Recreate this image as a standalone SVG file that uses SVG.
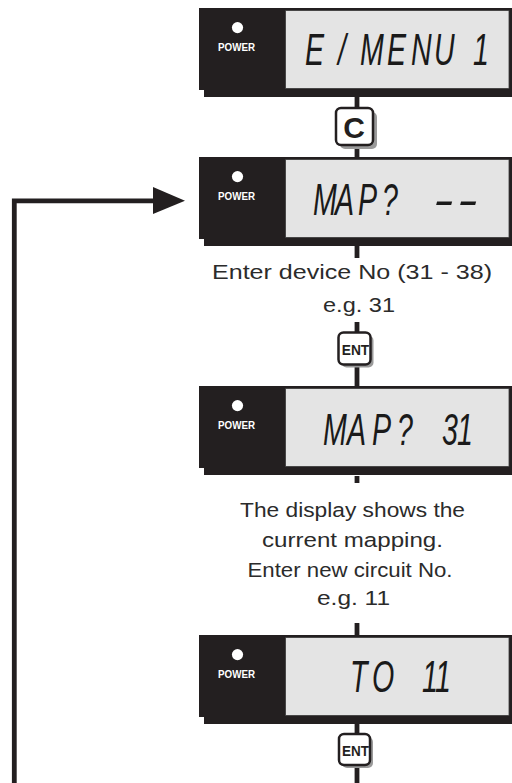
<svg xmlns="http://www.w3.org/2000/svg" width="512" height="783" viewBox="0 0 512 783">
<style>
.frame{fill:#231f20}
.lcd{fill:#e4e4e4;stroke:#3a3a3a;stroke-width:0.8}
.led{fill:#ffffff}
.pw{font-family:"Liberation Sans",Arial,sans-serif;font-weight:bold;font-size:10.5px;fill:#ffffff;text-anchor:middle}
.seg{font-family:"Liberation Sans",Arial,sans-serif;font-style:italic;font-size:44px;fill:#1a1a1a}
.desc{font-family:"Liberation Sans",Arial,sans-serif;font-size:20.5px;fill:#2b2b2b;text-anchor:middle}
.btn{fill:#ffffff;stroke:#231f20;stroke-width:2.5}
.bsh{fill:#9a9a9a}
.blbl{font-family:"Liberation Sans",Arial,sans-serif;font-weight:bold;fill:#231f20;text-anchor:middle}
.conn{stroke:#231f20;stroke-width:4.8;fill:none}
</style>
<defs>
<g id="panel">
<path class="frame" d="M199,0 H512 V89 H204 V82 H199 Z"/>
<rect class="lcd" x="285.5" y="2.5" width="223.5" height="78"/>
<circle class="led" cx="237.5" cy="19.6" r="5.6"/>
<text class="pw" x="236.5" y="42.8" textLength="37" lengthAdjust="spacingAndGlyphs">POWER</text>
</g>
</defs>

<g id="connectors">
<line class="conn" x1="357" y1="96" x2="357" y2="158"/>
<line class="conn" x1="357" y1="245" x2="357" y2="258"/>
<line class="conn" x1="357" y1="322" x2="357" y2="387"/>
<line class="conn" x1="357" y1="476" x2="357" y2="483"/>
<line class="conn" x1="357" y1="623" x2="357" y2="636"/>
<line class="conn" x1="357" y1="723" x2="357" y2="783"/>
<polyline class="conn" points="14.3,783 14.3,200.8 158,200.8" style="stroke-linejoin:miter"/>
<polygon fill="#231f20" points="153,187 185,200.8 153,214"/>
</g>

<g id="panel1">
<use href="#panel" y="8"/>
<text class="seg" transform="scale(0.65,1)" y="65" x="469.2 520 553.8 595.4 632.3 667.7 727.7">E/MENU1</text>
</g>

<g id="btn-c">
<rect class="bsh" x="340" y="112" width="37" height="37" rx="5"/>
<rect class="btn" x="336" y="108" width="37" height="37" rx="5"/>
<text class="blbl" x="354" y="137.5" font-size="30">C</text>
</g>

<g id="panel2">
<use href="#panel" y="157"/>
<text class="seg" transform="scale(0.65,1)" y="215" x="481.5 515.4 550.8 587.7">MAP?</text>
<text class="seg" transform="scale(1.4,1)" y="215" x="309.3 326.4">--</text>
</g>

<g id="text1">
<text class="desc" x="352" y="279" textLength="280" lengthAdjust="spacingAndGlyphs">Enter device No (31 - 38)</text>
<text class="desc" x="359" y="312" textLength="72" lengthAdjust="spacingAndGlyphs">e.g. 31</text>
</g>

<g id="btn-ent1">
<rect class="bsh" x="341.5" y="335.5" width="32" height="32" rx="5"/>
<rect class="btn" x="338.5" y="332.5" width="32" height="32" rx="5"/>
<text class="blbl" x="355.5" y="354.5" font-size="15" textLength="27.5" lengthAdjust="spacingAndGlyphs">ENT</text>
</g>

<g id="panel3">
<use href="#panel" y="386"/>
<text class="seg" transform="scale(0.65,1)" y="445" x="496.9 533.8 572.3 610.8 680 703">MAP?31</text>
</g>

<g id="text2">
<text class="desc" x="352.5" y="517" textLength="225" lengthAdjust="spacingAndGlyphs">The display shows the</text>
<text class="desc" x="352.5" y="547" textLength="181" lengthAdjust="spacingAndGlyphs">current mapping.</text>
<text class="desc" x="350" y="576.5" textLength="205" lengthAdjust="spacingAndGlyphs">Enter new circuit No.</text>
<text class="desc" x="353.5" y="605" textLength="73" lengthAdjust="spacingAndGlyphs">e.g. 11</text>
</g>

<g id="panel4">
<use href="#panel" y="635"/>
<text class="seg" transform="scale(0.65,1)" y="692" x="538.5 572.3 649.2 669.2">TO11</text>
</g>

<g id="btn-ent2">
<rect class="bsh" x="342" y="737" width="31" height="31" rx="5"/>
<rect class="btn" x="339" y="734" width="31" height="31" rx="5"/>
<text class="blbl" x="355.5" y="755.5" font-size="15" textLength="27" lengthAdjust="spacingAndGlyphs">ENT</text>
</g>
</svg>
